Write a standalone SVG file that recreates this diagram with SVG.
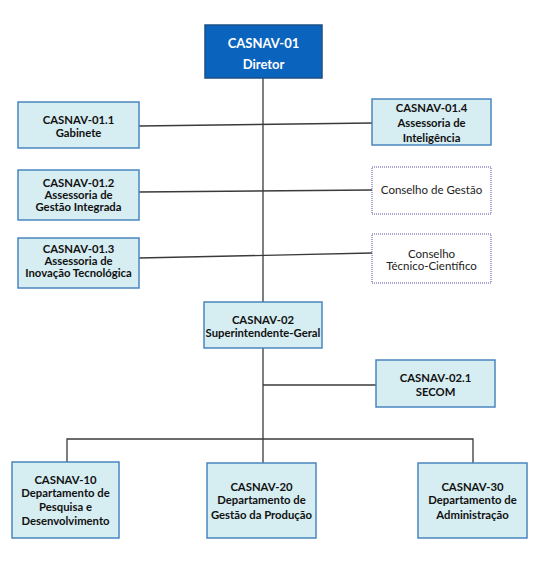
<svg xmlns="http://www.w3.org/2000/svg" width="538" height="582" viewBox="0 0 538 582">
<style>
.box{fill:#D6EDF2;stroke:#4A86C0;stroke-width:1.5}
.dir{fill:#0A64BD;stroke:#1B4F86;stroke-width:1.5}
.dot{fill:#ffffff;stroke:#5A4FA8;stroke-width:1;stroke-dasharray:1,1}
.t{font-family:Lato,"Liberation Sans",sans-serif;font-size:11.3px;font-weight:bold;fill:#111;text-anchor:middle}
.tw{font-family:Lato,"Liberation Sans",sans-serif;font-size:13px;font-weight:bold;fill:#ffffff;text-anchor:middle}
.tn{font-family:Lato,"Liberation Sans",sans-serif;font-size:11.5px;fill:#222;text-anchor:middle}
.c{stroke:#3a3a3a;stroke-width:1.3;fill:none}
</style>
<rect width="538" height="582" fill="#ffffff"/>
<g id="connectors">
<line class="c" x1="263" y1="78" x2="263" y2="302"/>
<line class="c" x1="263" y1="348" x2="263" y2="463"/>
<line class="c" x1="139" y1="126" x2="372" y2="123"/>
<line class="c" x1="139" y1="192" x2="372" y2="190"/>
<line class="c" x1="139" y1="258" x2="372" y2="253"/>
<line class="c" x1="263" y1="385" x2="376" y2="385"/>
<polyline class="c" points="67,462 67,439 473,439 473,463"/>
</g>
<g id="n01">
<rect class="dir" x="205" y="25" width="117" height="53"/>
<text class="tw" x="263.5" y="47.5">CASNAV-01</text>
<text class="tw" x="263.5" y="68.5">Diretor</text>
</g>
<g id="n011">
<rect class="box" x="18" y="102" width="121" height="46"/>
<text class="t" x="78.5" y="124">CASNAV-01.1</text>
<text class="t" x="78.5" y="136.7">Gabinete</text>
</g>
<g id="n012">
<rect class="box" x="18" y="170" width="121" height="50"/>
<text class="t" x="78.5" y="186.7">CASNAV-01.2</text>
<text class="t" x="78.5" y="199">Assessoria de</text>
<text class="t" x="78.5" y="211.3">Gestão Integrada</text>
</g>
<g id="n013">
<rect class="box" x="18" y="238" width="121" height="50"/>
<text class="t" x="78.5" y="253">CASNAV-01.3</text>
<text class="t" x="78.5" y="265">Assessoria de</text>
<text class="t" x="78.5" y="277.3">Inovação Tecnológica</text>
</g>
<g id="n014">
<rect class="box" x="372" y="99" width="119" height="46"/>
<text class="t" x="431.5" y="112">CASNAV-01.4</text>
<text class="t" x="431.5" y="127">Assessoria de</text>
<text class="t" x="431.5" y="141.5">Inteligência</text>
</g>
<g id="conselho-gestao">
<rect class="dot" x="372" y="167" width="119" height="47"/>
<text class="tn" x="431.5" y="194.2">Conselho de Gestão</text>
</g>
<g id="conselho-tecnico">
<rect class="dot" x="372" y="234" width="119" height="49"/>
<text class="tn" x="431.5" y="257.5">Conselho</text>
<text class="tn" x="431.5" y="270">Técnico-Científico</text>
</g>
<g id="n02">
<rect class="box" x="204" y="302" width="118" height="46"/>
<text class="t" x="263" y="324">CASNAV-02</text>
<text class="t" x="263" y="337.3">Superintendente-Geral</text>
</g>
<g id="n021">
<rect class="box" x="376" y="360" width="119" height="47"/>
<text class="t" x="435.5" y="381.7">CASNAV-02.1</text>
<text class="t" x="435.5" y="395.7">SECOM</text>
</g>
<g id="n10">
<rect class="box" x="12" y="462" width="107" height="76"/>
<text class="t" x="65.5" y="484">CASNAV-10</text>
<text class="t" x="65.5" y="497.3">Departamento de</text>
<text class="t" x="65.5" y="510.7">Pesquisa e</text>
<text class="t" x="65.5" y="524.7">Desenvolvimento</text>
</g>
<g id="n20">
<rect class="box" x="207" y="463" width="109" height="75"/>
<text class="t" x="261.5" y="490.7">CASNAV-20</text>
<text class="t" x="261.5" y="504">Departamento de</text>
<text class="t" x="261.5" y="519">Gestão da Produção</text>
</g>
<g id="n30">
<rect class="box" x="418" y="463" width="109" height="75"/>
<text class="t" x="472.5" y="490.7">CASNAV-30</text>
<text class="t" x="472.5" y="504">Departamento de</text>
<text class="t" x="472.5" y="519">Administração</text>
</g>
</svg>
